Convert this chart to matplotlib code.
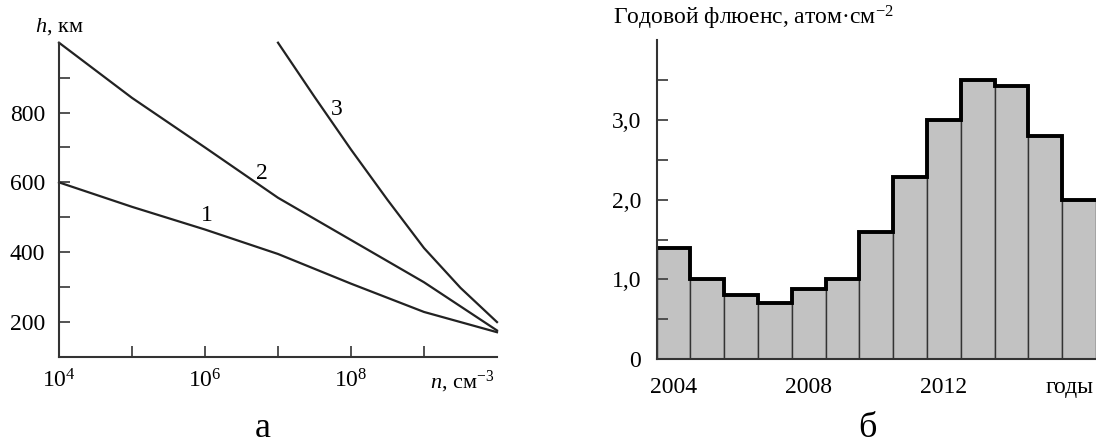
import matplotlib as mpl
mpl.use('Agg')
import matplotlib.pyplot as plt
import matplotlib.ticker as mticker
import numpy as np

plt.rcParams['font.family'] = ['Liberation Serif', 'DejaVu Serif']
plt.rcParams['mathtext.fontset'] = 'custom'
plt.rcParams['mathtext.rm'] = 'Liberation Serif'
plt.rcParams['mathtext.it'] = 'Liberation Serif:italic'

# --- panel a: altitude vs density ---
logn12 = [4, 5, 6, 7, 8, 9, 10]
h1 = [600, 530, 465, 395, 310, 229, 171]
h2 = [1000, 842, 700, 556, 435, 314, 176]
logn3 = [7, 7.5, 8, 8.5, 9, 9.5, 10]
h3 = [1000, 845, 694, 550, 412, 298, 200]
h_ticks = [200, 400, 600, 800]
h_minor = [300, 500, 700, 900]

# --- panel b: yearly fluence ---
years = np.arange(2004, 2017)
fluence = [1.4, 1.0, 0.8, 0.7, 0.88, 1.0, 1.6, 2.28, 3.0, 3.5, 3.42, 2.8, 2.0]
year_labels = [2004, 2008, 2012]

ink = '#222222'
fs = 17

fig = plt.figure(figsize=(10.96, 4.44), dpi=100)

# left axes
ax1 = fig.add_axes([59 / 1096, 1 - 357 / 444, 438 / 1096, (357 - 42.7) / 444])
ax1.set_xscale('log')
ax1.set_xlim(1e4, 1e10)
ax1.set_ylim(100, 1000)
for ln, h in [(logn12, h1), (logn12, h2), (logn3, h3)]:
    ax1.plot(10.0 ** np.array(ln), h, color=ink, lw=1.6, clip_on=False)

ax1.text(10 ** 6.03, 505, '1', fontsize=fs, ha='center', va='center')
ax1.text(10 ** 6.78, 625, '2', fontsize=fs, ha='center', va='center')
ax1.text(10 ** 7.81, 810, '3', fontsize=fs, ha='center', va='center')

ax1.set_xticks([1e4, 1e6, 1e8])
ax1.set_xticklabels(['$10^4$', '$10^6$', '$10^8$'])
ax1.set_xticks([1e5, 1e7, 1e9], minor=True)
ax1.xaxis.set_minor_formatter(mticker.NullFormatter())
ax1.set_yticks(h_ticks)
ax1.set_yticks(h_minor, minor=True)
ax1.tick_params(axis='both', which='both', direction='in', length=8, width=1.3,
                color='#444444', labelsize=fs)
ax1.tick_params(axis='x', pad=9)
ax1.tick_params(axis='y', pad=10)
for s in ['top', 'right']:
    ax1.spines[s].set_visible(False)
for s in ['left', 'bottom']:
    ax1.spines[s].set_color('#333333')
    ax1.spines[s].set_linewidth(1.5)

fig.text(35 / 1096, 1 - 27 / 444, '$h$, км', fontsize=16, ha='left', va='center')
fig.text(494 / 1096, 1 - 388 / 444, '$n$, см$^{-3}$', fontsize=16,
         ha='right', va='baseline')
fig.text(263 / 1096, 1 - 437 / 444, 'а', fontsize=26, ha='center', va='baseline')

# right axes
ax2 = fig.add_axes([656.5 / 1096, 1 - 359.3 / 444, 1 - 656.5 / 1096, 319.3 / 444])
ax2.bar(years, fluence, width=1.0, color='#c2c2c2', edgecolor='#333333', linewidth=1.0)
ax2.stairs(fluence, np.append(years - 0.5, years[-1] + 0.5), baseline=None,
           color='black', linewidth=2.8)
ax2.set_xlim(2003.5, 2016.5)
ax2.set_ylim(0, 4)
ax2.set_yticks([0, 1, 2, 3])
ax2.set_yticklabels(['0', '1,0', '2,0', '3,0'])
ax2.set_yticks([0.5, 1.5, 2.5, 3.5], minor=True)
ax2.set_xticks(year_labels)
ax2.set_xticklabels([str(y) for y in year_labels])
ax2.tick_params(axis='y', which='both', direction='in', length=8, width=1.3,
                color='#444444', labelsize=fs, pad=11)
ax2.tick_params(axis='x', length=0, labelsize=fs, pad=13)
for s in ['top', 'right']:
    ax2.spines[s].set_visible(False)
for s in ['left', 'bottom']:
    ax2.spines[s].set_color('#333333')
    ax2.spines[s].set_linewidth(1.5)

fig.text(612.7 / 1096, 1 - 18 / 444, 'Годовой флюенс, атом·см$^{-2}$', fontsize=17,
         ha='left', va='center')
fig.text(1094 / 1096, 1 - 393 / 444, 'годы', fontsize=fs, ha='right', va='baseline')
fig.text(867 / 1096, 1 - 437 / 444, 'б', fontsize=26, ha='center', va='baseline')

fig.savefig('out.png', dpi=100)
plt.close(fig)
